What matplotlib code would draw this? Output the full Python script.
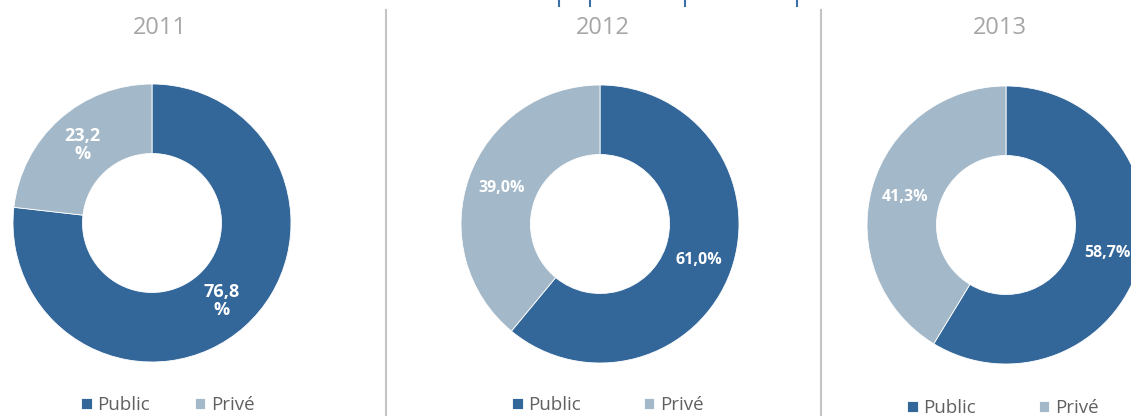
import matplotlib
matplotlib.use('Agg')
import numpy as np
import matplotlib.pyplot as plt
from matplotlib.lines import Line2D

# ------------------------------------------------------------------------
# Data

years = ['2011', '2012', '2013']
sectors = ['Public', 'Privé']
public_share = [76.8, 61.0, 58.7]
private_share = [23.2, 39.0, 41.3]

# ------------------------------------------------------------------------
# Style

colors = ['#336699', '#a3b8c8']
title_color = '#a6a6a6'
legend_color = '#606060'
rule_color = '#c4c4c4'

W, H = 1131, 416
radius_px = 139
centers = [(152, 223), (600, 224), (1006, 225)]
legend_pos = [(168, 405), (608, 405), (1003, 408)]
legend_gap = [2.4, 3.35, 3.35]
title_pos = [(160, 28), (603, 28), (1000, 28)]
wrap_label = [True, False, False]
label_size = [13, 11.5, 11.5]

plt.rcParams['font.family'] = ['Open Sans', 'DejaVu Sans']


def fmt(v, wrap):
    s = f'{v:.1f}'.replace('.', ',')
    return s + ('\n%' if wrap else '%')


fig = plt.figure(figsize=(W / 100, H / 100), dpi=100)

for i, year in enumerate(years):
    cx, cy = centers[i]
    ax = fig.add_axes([(cx - radius_px) / W, (H - cy - radius_px) / H,
                       2 * radius_px / W, 2 * radius_px / H])
    vals = [public_share[i], private_share[i]]
    wedges, _ = ax.pie(vals, colors=colors, startangle=90, counterclock=False,
                       radius=1.0,
                       wedgeprops=dict(width=0.5, edgecolor='white', linewidth=0.6))
    ax.set_xlim(-1, 1)
    ax.set_ylim(-1, 1)
    ax.set_aspect('equal')
    ax.axis('off')

    # value labels at the middle of each ring segment
    start = 90.0
    for v in vals:
        mid = np.deg2rad(start - v * 3.6 / 2)
        start -= v * 3.6
        ax.text(0.755 * np.cos(mid), 0.755 * np.sin(mid), fmt(v, wrap_label[i]),
                ha='center', va='center', color='white', fontsize=label_size[i],
                fontweight='bold', linespacing=1.0)

    tx, ty = title_pos[i]
    fig.text(tx / W, 1 - ty / H, year, ha='center', va='center',
             fontsize=17, color=title_color)

    lx, ly = legend_pos[i]
    leg = ax.legend(wedges, sectors, loc='center',
                    bbox_to_anchor=(lx / W, 1 - ly / H),
                    bbox_transform=fig.transFigure, ncol=2, frameon=False,
                    fontsize=13.5, handlelength=0.55, handleheight=0.55,
                    handletextpad=0.3, columnspacing=legend_gap[i], borderpad=0)
    for t in leg.get_texts():
        t.set_color(legend_color)

# vertical rules between the panels
for x in (386, 821):
    fig.add_artist(Line2D([x / W, x / W], [0, 1 - 10 / H],
                          color=rule_color, lw=1.5))

# tick stubs along the top edge
for x in (559, 590, 685, 797):
    fig.add_artist(Line2D([x / W, x / W], [1, 1 - 6 / H],
                          color='#3a6fa8', lw=1.5))

fig.savefig('out.png', dpi=100)
